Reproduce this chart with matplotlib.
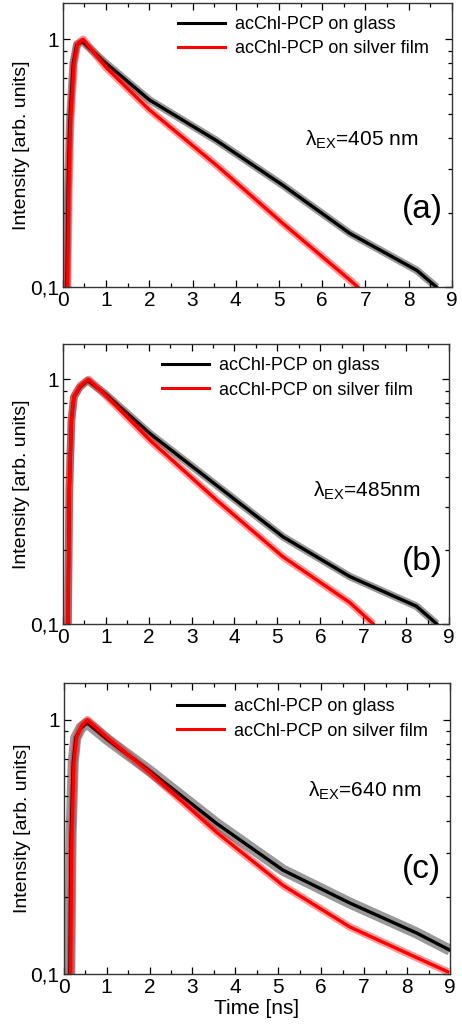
import numpy as np
import matplotlib
matplotlib.use("Agg")
import matplotlib.pyplot as plt
from matplotlib.ticker import FixedLocator, NullFormatter, MultipleLocator

plt.rcParams['font.family'] = ['Liberation Sans', 'DejaVu Sans']
plt.rcParams['mathtext.fontset'] = 'custom'
plt.rcParams['mathtext.rm'] = 'Liberation Sans'
plt.rcParams['mathtext.it'] = 'Liberation Sans:italic'

# values (time in ns, normalised intensity)
t_a_glass = [0.09, 0.12, 0.16, 0.24, 0.32, 0.45, 1.0, 2.0, 3.56, 5.09, 6.64, 8.19, 8.65]
i_a_glass = [0.1, 0.25, 0.47, 0.8, 0.95, 0.98, 0.80, 0.57, 0.39, 0.258, 0.165, 0.117, 0.1]
t_a_silver = [0.11, 0.14, 0.18, 0.26, 0.34, 0.47, 1.0, 2.0, 3.56, 5.09, 6.64, 6.83]
i_a_silver = [0.1, 0.25, 0.47, 0.8, 0.96, 1.0, 0.77, 0.52, 0.31, 0.181, 0.107, 0.1]

t_b_glass = [0.12, 0.15, 0.2, 0.26, 0.4, 0.58, 1.0, 2.03, 3.58, 5.13, 6.69, 8.24, 8.71]
i_b_glass = [0.1, 0.35, 0.68, 0.85, 0.93, 0.99, 0.87, 0.6, 0.369, 0.227, 0.156, 0.118, 0.1]
t_b_silver = [0.12, 0.15, 0.2, 0.26, 0.4, 0.6, 1.0, 2.03, 3.58, 5.13, 6.69, 7.23]
i_b_silver = [0.1, 0.35, 0.68, 0.85, 0.94, 1.0, 0.86, 0.564, 0.321, 0.188, 0.122, 0.1]

t_c_glass = [0.14, 0.17, 0.22, 0.28, 0.4, 0.55, 1.0, 2.0, 3.56, 5.11, 6.67, 8.22, 9.0]
i_c_glass = [0.1, 0.35, 0.68, 0.85, 0.93, 0.97, 0.84, 0.63, 0.391, 0.256, 0.19, 0.145, 0.124]
t_c_silver = [0.16, 0.19, 0.24, 0.3, 0.42, 0.55, 1.0, 2.0, 3.56, 5.11, 6.67, 8.22, 8.95]
i_c_silver = [0.1, 0.35, 0.68, 0.85, 0.95, 1.0, 0.855, 0.62, 0.361, 0.223, 0.153, 0.116, 0.102]

labels = ['acChl-PCP on glass', 'acChl-PCP on silver film']
lambdas = [r'λ$_{\mathrm{EX}}$=405 nm', r'λ$_{\mathrm{EX}}$=485nm', r'λ$_{\mathrm{EX}}$=640 nm']
tags = ['(a)', '(b)', '(c)']

panels = [
    ([0.136, 0.720, 0.842, 0.277], t_a_glass, i_a_glass, t_a_silver, i_a_silver,
     (0.622, 0.52), (0.923, 0.275), (0.296, 0.955), 5.5),
    ([0.136, 0.392, 0.836, 0.273], t_b_glass, i_b_glass, t_b_silver, i_b_silver,
     (0.648, 0.473), (0.930, 0.223), (0.256, 0.952), 5.5),
    ([0.138, 0.0507, 0.836, 0.284], t_c_glass, i_c_glass, t_c_silver, i_c_silver,
     (0.632, 0.627), (0.927, 0.358), (0.293, 0.947), 8),
]

fig = plt.figure(figsize=(4.62, 10.26), dpi=100)

for k, (rect, tg, ig, ts, i_s, lam_pos, tag_pos, leg_pos, band) in enumerate(panels):
    ax = fig.add_axes(rect)
    # wide faint band under each trace to suggest the noise width
    ax.plot(tg, ig, color='black', lw=band, alpha=0.4, solid_capstyle='butt')
    ax.plot(tg, ig, color='black', lw=2.4, label=labels[0])
    ax.plot(ts, i_s, color='#ff0000', lw=5.5, alpha=0.4, solid_capstyle='butt')
    ax.plot(ts, i_s, color='#ff0000', lw=2.4, label=labels[1])

    ax.set_yscale('log')
    ax.set_ylim(0.1, 1.4)
    ax.set_xlim(0, 9)
    ax.xaxis.set_major_locator(MultipleLocator(1))
    ax.xaxis.set_minor_locator(MultipleLocator(0.5))
    ax.yaxis.set_major_locator(FixedLocator([0.1, 1]))
    ax.set_yticklabels(['0,1', '1'])
    ax.yaxis.set_minor_locator(FixedLocator([0.2, 0.3, 0.4, 0.5, 0.6, 0.7, 0.8, 0.9]))
    ax.yaxis.set_minor_formatter(NullFormatter())
    ax.tick_params(which='both', direction='in', top=True, right=True, labelsize=15, pad=3)
    ax.tick_params(which='major', length=5, width=0.9)
    ax.tick_params(which='minor', length=3, width=0.9)
    for s in ax.spines.values():
        s.set_linewidth(1.0)
        s.set_color('#333333')

    ax.set_ylabel('Intensity [arb. units]', fontsize=14, labelpad=0)
    if k == 2:
        ax.set_xlabel('Time [ns]', fontsize=15, labelpad=1)

    ax.text(lam_pos[0], lam_pos[1], lambdas[k], transform=ax.transAxes,
            fontsize=15, ha='left', va='center')
    ax.text(tag_pos[0], tag_pos[1], tags[k], transform=ax.transAxes,
            fontsize=24, ha='center', va='center')

    leg = ax.legend(loc='upper left', bbox_to_anchor=leg_pos, frameon=False,
                    fontsize=13, handlelength=2.6, handletextpad=0.55,
                    labelspacing=0.42, borderpad=0, borderaxespad=0)
    for h in leg.get_lines():
        h.set_linewidth(2.2)

fig.savefig('out.png', dpi=100)
